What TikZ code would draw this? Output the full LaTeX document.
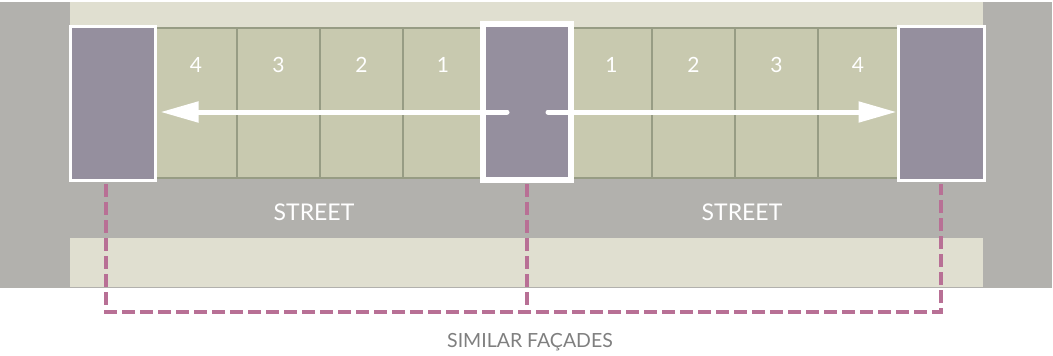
\documentclass[tikz,border=0pt]{standalone}
\usepackage{fontspec}
\setmainfont{Lato}
\usetikzlibrary{arrows.meta,calc}
\definecolor{bggray}{HTML}{B2B1AD}
\definecolor{beige}{HTML}{E0DFD0}
\definecolor{cellgreen}{HTML}{C8C9AF}
\definecolor{cellline}{HTML}{979C84}
\definecolor{purp}{HTML}{958F9E}
\definecolor{mag}{HTML}{B87095}
\definecolor{txtgray}{HTML}{7F7F7F}
\tikzset{
  cell/.style={draw=cellline,line width=2.5pt,fill=cellgreen},
  lot/.style={draw=white,fill=purp,inner sep=0pt},
  num/.style={text=white,font=\fontsize{21}{21}\selectfont},
  streetlbl/.style={text=white,font=\fontsize{23}{23}\selectfont},
  simlbl/.style={text=txtgray,font=\fontsize{19.5}{19.5}\selectfont},
  viewarrow/.style={draw=white,line width=5pt,line cap=round,-{Triangle[length=38pt,width=20pt]}},
  similar/.style={draw=mag,line width=4pt,dash pattern=on 13pt off 5pt}
}
\begin{document}
\begin{tikzpicture}[x=1pt,y=-1pt]
\useasboundingbox (0,0) rectangle (1053,356);
% ground
\fill[bggray] (0,2) rectangle (1052,288);
\fill[beige] (70,2) rectangle (983,27);
\fill[beige] (70,238) rectangle (983,287);
% cells
\foreach \a/\b/\n [count=\i] in {155/237/4,237/320/3,320/403/2,403/483/1,571/652/1,652/735/2,735/818/3,818/898/4}{
  \draw[cell] (\a,28) rectangle (\b,178);
  \node[num] (n\i) at ({(\a+\b)/2},65) {\n};
}
% lots
\node[lot,line width=3pt,minimum width=85pt,minimum height=154pt] (L) at (112.5,103) {};
\node[lot,line width=5.5pt,minimum width=88pt,minimum height=156pt] (C) at (527,102) {};
\node[lot,line width=3pt,minimum width=86pt,minimum height=154pt] (R) at (941,103) {};
% arrows
\coordinate (cl) at (507,112);
\coordinate (cr) at (548,112);
\draw[viewarrow,shorten >=4pt] (cl) -- (L.east|-cl);
\draw[viewarrow] (cr) -- (R.west|-cr);
% street labels
\node[streetlbl] (s1) at (314,212) {STREET};
\node[streetlbl] (s2) at (742,212) {STREET};
% similar facades
\coordinate (dl) at (106,184);
\coordinate (dc) at (527,184);
\coordinate (dr) at (941,184);
\coordinate (bl) at (106,312);
\coordinate (bc) at (527,312);
\coordinate (br) at (941,312);
\draw[similar] (dl) -- (bl) -- (br) -- (dr);
\draw[similar] (dc) -- (bc);
\node[simlbl] (sim) at (530,342) {SIMILAR FAÇADES};
\end{tikzpicture}
\end{document}
